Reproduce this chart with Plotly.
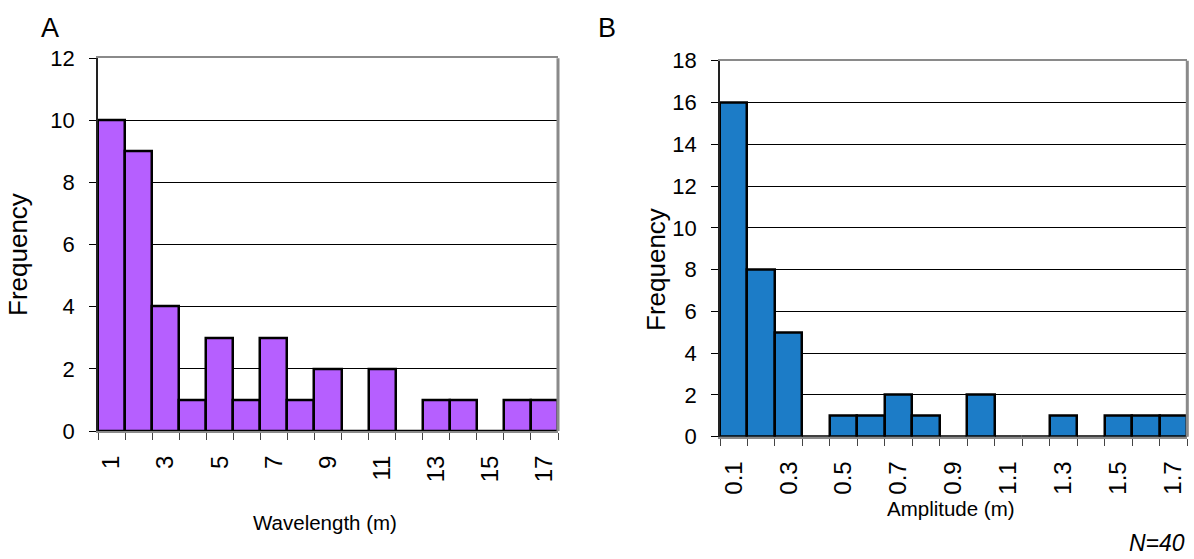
import plotly.graph_objects as go

# Panel A: wavelength histogram
wavelength_bins = list(range(1, 18))
wavelength_freq = [10, 9, 4, 1, 3, 1, 3, 1, 2, 0, 2, 0, 1, 1, 0, 1, 1]
wavelength_labels = ["1", "3", "5", "7", "9", "11", "13", "15", "17"]

# Panel B: amplitude histogram
amplitude_bins = [round(0.1 * i, 1) for i in range(1, 18)]
amplitude_freq = [16, 8, 5, 0, 1, 1, 2, 1, 0, 2, 0, 0, 1, 0, 1, 1, 1]
amplitude_labels = ["0.1", "0.3", "0.5", "0.7", "0.9", "1.1", "1.3", "1.5", "1.7"]

FONT = "Liberation Sans, Arial, sans-serif"
W, H = 1194, 559

fig = go.Figure()

fig.add_trace(go.Bar(
    x=wavelength_bins, y=wavelength_freq, width=1,
    marker=dict(color="#B65FFF", line=dict(color="black", width=2.5)),
    xaxis="x", yaxis="y", showlegend=False,
))
fig.add_trace(go.Bar(
    x=amplitude_bins, y=amplitude_freq, width=0.1,
    marker=dict(color="#1C7CC7", line=dict(color="black", width=2.5)),
    xaxis="x2", yaxis="y2", showlegend=False,
))

def px_x(v):
    return v / W

def px_y(v):
    return 1 - v / H

step_a = 1
step_b = 0.1
bounds_a = [wavelength_bins[0] - step_a / 2 + i * step_a for i in range(len(wavelength_bins) + 1)]
bounds_b = [round(amplitude_bins[0] - step_b / 2 + i * step_b, 3) for i in range(len(amplitude_bins) + 1)]

xcommon = dict(
    automargin=False,
    showline=True, linecolor="#8a8a8a", linewidth=2, mirror=True,
    showgrid=False, zeroline=False,
    ticks="outside", ticklen=13, tickcolor="rgba(0,0,0,0)",
    tickangle=-90, tickfont=dict(family=FONT, size=24, color="black"),
)
ycommon = dict(
    automargin=False,
    showline=True, linecolor="#222", linewidth=1.5,
    showgrid=True, gridcolor="black", gridwidth=1, zeroline=False,
    ticks="outside", ticklen=7, tickcolor="black", tickwidth=1,
    ticklabelstandoff=10,
    tickfont=dict(family=FONT, size=22, color="black"),
)

fig.update_layout(
    width=W, height=H,
    margin=dict(l=0, r=0, t=0, b=0),
    paper_bgcolor="white", plot_bgcolor="white",
    bargap=0,
    xaxis=dict(
        domain=[px_x(98), px_x(558)], anchor="y",
        range=[bounds_a[0], bounds_a[-1]],
        tickmode="array",
        tickvals=[int(t) for t in wavelength_labels],
        ticktext=wavelength_labels,
        minor=dict(tickmode="array", tickvals=bounds_a, ticks="outside",
                   ticklen=7, tickcolor="#444", tickwidth=1, showgrid=False),
        **xcommon,
    ),
    yaxis=dict(
        domain=[px_y(431), px_y(58.3)], anchor="x",
        range=[0, 12], dtick=2, **ycommon,
    ),
    xaxis2=dict(
        domain=[px_x(720), px_x(1187.3)], anchor="y2",
        range=[bounds_b[0], bounds_b[-1]],
        tickmode="array",
        tickvals=[float(t) for t in amplitude_labels],
        ticktext=amplitude_labels,
        minor=dict(tickmode="array", tickvals=bounds_b, ticks="outside",
                   ticklen=7, tickcolor="#444", tickwidth=1, showgrid=False),
        **xcommon,
    ),
    yaxis2=dict(
        domain=[px_y(436.7), px_y(60.7)], anchor="x2",
        range=[0, 18], dtick=2, **ycommon,
    ),
)

# gray right-hand frame edge of each plot area
for xr, yr in (("x domain", "y domain"), ("x2 domain", "y2 domain")):
    fig.add_shape(type="line", xref=xr, yref=yr, x0=1, x1=1, y0=0, y1=1,
                  line=dict(color="#8a8a8a", width=3), layer="above")

def text(x, y, s, size=20, angle=0, italic=False):
    fig.add_annotation(
        x=px_x(x), y=px_y(y), xref="paper", yref="paper",
        text=f"<i>{s}</i>" if italic else s, showarrow=False, textangle=angle,
        font=dict(family=FONT, size=size, color="black"),
        xanchor="center", yanchor="middle",
    )

text(50, 28, "A", size=27)
text(607, 28, "B", size=27)
text(18, 255, "Frequency", size=26, angle=-90)
text(656, 270, "Frequency", size=26, angle=-90)
text(325, 522, "Wavelength (m)", size=20.5)
text(951, 508, "Amplitude (m)", size=20.5)
text(1157, 543, "N=40", size=23, italic=True)

fig.write_html("out.html")
